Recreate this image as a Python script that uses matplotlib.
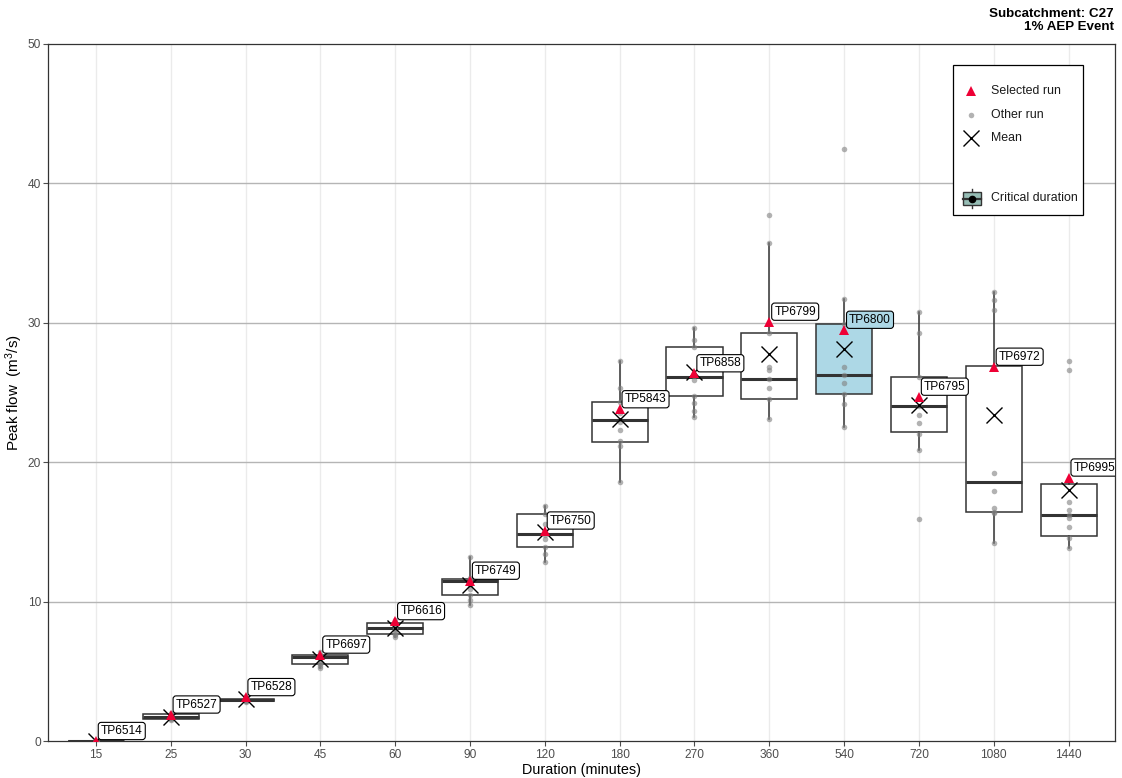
import matplotlib
matplotlib.use("Agg")
import matplotlib.pyplot as plt
from matplotlib.lines import Line2D
from matplotlib.patches import Rectangle


plt.rcParams["font.family"] = ["Liberation Sans", "DejaVu Sans"]
plt.rcParams["mathtext.default"] = "regular"

DURATIONS = ["15", "25", "30", "45", "60", "90", "120", "180", "270", "360", "540", "720", "1080", "1440"]

# Box statistics (m3/s) per storm duration
Q1 = [0.0, 1.58, 2.85, 5.52, 7.68, 10.47, 13.9, 21.47, 24.75, 24.51, 24.89, 22.19, 16.45, 14.71]
MEDIAN = [0.0, 1.75, 2.95, 6.05, 8.08, 11.5, 14.85, 23.03, 26.14, 25.94, 26.26, 24.05, 18.6, 16.21]
Q3 = [0.0, 1.92, 3.02, 6.17, 8.44, 11.65, 16.26, 24.3, 28.29, 29.24, 29.89, 26.14, 26.9, 18.44]
WHISKER_LOW = [0.0, 1.5, 2.8, 5.24, 7.46, 9.76, 12.86, 18.6, 23.22, 23.08, 22.5, 20.88, 14.18, 13.82]
WHISKER_HIGH = [0.0, 2.0, 3.2, 6.38, 8.68, 13.2, 16.88, 27.26, 29.65, 35.7, 31.7, 30.75, 32.23, 18.9]
MEAN = [0.0, 1.75, 3.0, 5.9, 8.1, 11.2, 15.0, 23.08, 26.5, 27.76, 28.1, 24.1, 23.39, 18.0]

SELECTED_RUN = ["TP6514", "TP6527", "TP6528", "TP6697", "TP6616", "TP6749", "TP6750",
                "TP5843", "TP6858", "TP6799", "TP6800", "TP6795", "TP6972", "TP6995"]
SELECTED_FLOW = [0.0, 1.9, 3.15, 6.2, 8.6, 11.5, 15.1, 23.8, 26.38, 30.08, 29.5, 24.7, 26.85, 18.9]

OTHER_FLOWS = [
    [0.0] * 9,
    [1.5, 1.6, 1.65, 1.7, 1.75, 1.8, 1.9, 1.95, 2.0],
    [2.8, 2.85, 2.9, 2.95, 3.0, 3.0, 3.05, 3.1, 3.2],
    [5.24, 5.4, 5.5, 5.6, 5.9, 6.0, 6.1, 6.17, 6.38],
    [7.46, 7.6, 7.7, 7.9, 8.0, 8.1, 8.3, 8.45, 8.68],
    [9.76, 10.1, 10.5, 10.9, 11.2, 11.45, 11.6, 11.7, 13.2],
    [12.86, 13.4, 13.9, 14.5, 14.8, 15.0, 15.6, 16.3, 16.88],
    [18.6, 21.16, 21.5, 22.3, 22.9, 23.5, 24.3, 25.3, 27.26],
    [23.22, 23.7, 24.27, 24.75, 25.9, 26.3, 28.29, 28.8, 29.65],
    [23.08, 24.5, 25.3, 25.94, 26.6, 26.85, 29.24, 35.7, 37.73],
    [22.5, 24.2, 24.89, 25.66, 26.26, 26.8, 29.89, 31.7, 42.5],
    [15.9, 20.88, 22.0, 22.79, 23.39, 24.05, 26.14, 29.24, 30.75],
    [14.18, 16.35, 16.45, 16.7, 17.9, 19.25, 30.9, 31.6, 32.23],
    [13.82, 14.54, 15.37, 15.97, 16.21, 16.57, 17.17, 26.6, 27.26],
]

CRITICAL_DURATION = "540"

RED = "#ee0035"
GREY_PT = "#808080"
CRIT_FILL = "#add8e6"
EDGE = "#333333"


def main():
    fig = plt.figure(figsize=(11.22, 7.78), dpi=100)
    ax = fig.add_axes([48 / 1122, 1 - 741 / 778, (1115 - 48) / 1122, (741 - 44) / 778])

    positions = list(range(len(DURATIONS)))
    crit_idx = DURATIONS.index(CRITICAL_DURATION)

    # grid
    for p in positions:
        ax.axvline(p, color="#ebebeb", lw=1.0, zorder=0)
    for yv in range(10, 50, 10):
        ax.axhline(yv, color="#b5b5b5", lw=1.0, zorder=0)

    stats = []
    for i in positions:
        stats.append({"med": MEDIAN[i], "q1": Q1[i], "q3": Q3[i],
                      "whislo": WHISKER_LOW[i], "whishi": WHISKER_HIGH[i], "fliers": []})
    bp = ax.bxp(stats, positions=positions, widths=0.75, patch_artist=True,
                showcaps=False, showfliers=False,
                boxprops=dict(facecolor="white", edgecolor=EDGE, linewidth=1.1),
                whiskerprops=dict(color=EDGE, linewidth=1.1),
                medianprops=dict(color=EDGE, linewidth=2.2),
                zorder=2)
    bp["boxes"][crit_idx].set_facecolor(CRIT_FILL)

    # individual runs
    for i in positions:
        ax.plot([i] * len(OTHER_FLOWS[i]), OTHER_FLOWS[i], "o", color=GREY_PT,
                alpha=0.6, ms=4, mew=0, zorder=3)

    ax.plot(positions, MEAN, "x", color="black", ms=11, mew=1.0, ls="none", zorder=4)
    ax.plot(positions, SELECTED_FLOW, "^", color=RED, ms=7, mew=0, ls="none", zorder=5)

    for i in positions:
        fc = CRIT_FILL if i == crit_idx else "white"
        ax.annotate(SELECTED_RUN[i], (i, SELECTED_FLOW[i]), xytext=(5, 4),
                    textcoords="offset pixels", ha="left", va="bottom",
                    fontsize=8.6, color="black", zorder=6, clip_on=True,
                    bbox=dict(boxstyle="round,pad=0.22,rounding_size=0.25",
                              fc=fc, ec="black", lw=0.8))

    ax.set_xlim(-0.64, len(DURATIONS) - 1 + 0.62)
    ax.set_ylim(0, 50)
    ax.set_xticks(positions)
    ax.set_xticklabels(DURATIONS)
    ax.set_yticks(range(0, 51, 10))
    ax.tick_params(axis="both", colors="#4d4d4d", labelsize=8.6, length=3.5, width=0.8)
    ax.tick_params(axis="x", pad=2.5)
    ax.tick_params(axis="y", pad=1.5)
    for side in ["left", "right", "top", "bottom"]:
        ax.spines[side].set_color(EDGE)
        ax.spines[side].set_linewidth(0.9)

    ax.set_xlabel("Duration (minutes)", fontsize=10.4, labelpad=1)
    ax.set_ylabel("Peak flow  (m$^{3}$/s)", fontsize=11, labelpad=2)

    fig.text(1114 / 1122, 1 - 8 / 778, "Subcatchment: C27\n1% AEP Event",
             ha="right", va="top", fontsize=9.6, fontweight="bold", linespacing=1.1)

    # legend, laid out in figure pixels
    def fx(x):
        return x / 1122

    def fy(y):
        return 1 - y / 778

    tf = fig.transFigure
    fig.add_artist(Rectangle((fx(953), fy(215)), fx(1083) - fx(953), fy(65) - fy(215),
                             transform=tf, fc="white", ec="black", lw=0.9, zorder=7))
    fig.add_artist(Line2D([fx(971)], [fy(91)], marker="^", color=RED, ms=7, mew=0,
                          transform=tf, zorder=8))
    fig.add_artist(Line2D([fx(971)], [fy(115)], marker="o", color=GREY_PT, alpha=0.6,
                          ms=4, mew=0, transform=tf, zorder=8))
    fig.add_artist(Line2D([fx(971)], [fy(138)], marker="x", color="black", ms=11, mew=1.0,
                          transform=tf, zorder=8))
    # critical duration key: a small boxplot glyph
    fig.add_artist(Line2D([fx(972), fx(972)], [fy(189), fy(208)], color=EDGE, lw=1.0,
                          transform=tf, zorder=8))
    fig.add_artist(Rectangle((fx(963), fy(205)), fx(981) - fx(963), fy(192) - fy(205),
                             transform=tf, fc="#96bdb5", ec=EDGE, lw=1.0, zorder=9))
    fig.add_artist(Line2D([fx(963), fx(981)], [fy(198.5), fy(198.5)], color=EDGE, lw=1.6,
                          transform=tf, zorder=10))
    fig.add_artist(Line2D([fx(972)], [fy(198.5)], marker="o", color="black", ms=4.5,
                          transform=tf, zorder=10))
    for label, y in [("Selected run", 91), ("Other run", 115), ("Mean", 138),
                     ("Critical duration", 198)]:
        fig.text(fx(991), fy(y), label, ha="left", va="center", fontsize=8.9,
                 color="#1a1a1a", zorder=8)

    fig.savefig("out.png", dpi=100)
    plt.close(fig)


if __name__ == "__main__":
    main()
